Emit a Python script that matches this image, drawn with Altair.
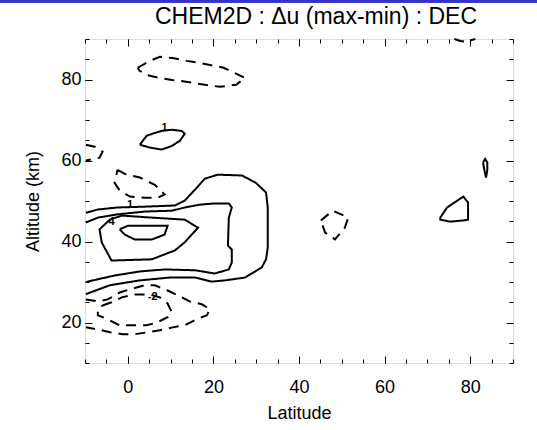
import altair as alt
import pandas as pd

# ---- contour lines (latitude, altitude km) ----
# positive contours (solid)
outer1_lat = [-9.8, -7.0, -2.4, 4.0, 11.0, 13.3, 15.7, 18.0, 21.0, 26.7, 29.9, 32.3, 32.7, 32.7, 32.7, 32.3, 31.3, 27.4, 22.7, 19.6, 15.7, 9.8, 2.8, -4.2, -9.8]
outer1_alt = [47.1, 47.9, 48.4, 48.6, 48.9, 50.1, 52.8, 55.5, 56.5, 56.3, 54.5, 52.1, 48.4, 43.4, 38.5, 35.6, 33.6, 31.1, 30.4, 30.1, 31.1, 31.1, 30.4, 29.2, 27.0]
mid2_lat = [-9.8, -7.0, -2.4, 4.0, 10.3, 13.3, 16.8, 20.3, 23.6, 24.3, 23.6, 23.4, 24.3, 24.3, 23.6, 20.3, 15.7, 8.6, 2.8, -3.1, -9.8]
mid2_alt = [44.7, 45.9, 46.7, 47.4, 47.6, 48.4, 49.1, 49.4, 49.4, 48.4, 45.9, 39.0, 38.0, 34.8, 33.1, 32.1, 32.9, 33.1, 32.6, 31.6, 30.0]
in3_lat = [-1.4, 5.6, 13.3, 16.4, 13.3, 11.0, 5.6, -3.8, -6.1, -6.6, -4.2, -1.4]
in3_alt = [46.4, 45.9, 45.4, 43.4, 39.8, 37.8, 35.6, 35.3, 39.8, 43.0, 45.4, 46.4]
core4_lat = [-1.9, 0.0, 9.3, 8.6, 5.6, 1.6, -0.7, -1.9]
core4_alt = [43.0, 43.9, 43.9, 41.7, 40.5, 40.5, 41.7, 43.0]
upper_lat = [2.8, 4.4, 6.3, 7.9, 10.3, 12.6, 13.3, 12.2, 10.3, 7.9, 5.1, 2.8]
upper_alt = [63.9, 66.1, 66.8, 67.3, 67.6, 67.3, 66.6, 64.9, 63.6, 62.7, 63.2, 63.9]
right_lat = [73.0, 74.6, 78.4, 79.5, 79.5, 78.4, 75.3, 73.0, 73.0]
right_alt = [45.9, 48.4, 51.1, 49.6, 45.4, 45.2, 44.9, 45.4, 45.9]
tiny_lat = [83.0, 83.5, 84.0, 84.0, 83.7, 83.3, 83.0]
tiny_alt = [59.5, 60.4, 59.5, 57.7, 55.8, 57.7, 59.5]

# negative contours (dashed)
dtop_lat = [2.3, 5.1, 7.5, 10.5, 13.8, 16.8, 22.4, 27.4, 25.3, 21.5, 18.0, 14.0, 10.3, 7.5, 5.1, 2.8, 2.3]
dtop_alt = [82.9, 84.6, 85.6, 85.3, 84.6, 84.1, 82.9, 80.4, 78.7, 78.2, 78.7, 79.4, 79.9, 80.4, 80.9, 82.1, 82.9]
dcorner_lat = [76.3, 77.7, 79.1, 80.5, 81.2]
dcorner_alt = [90.0, 89.5, 89.3, 89.8, 90.0]
dleft_lat = [-9.8, -7.7, -5.9, -6.6, -9.8]
dleft_alt = [63.9, 63.4, 62.2, 60.7, 60.0]
dmid_lat = [-2.4, -0.7, 2.8, 6.3, 8.6, 7.0, 4.0, 0.5, -1.9, -3.1, -2.4]
dmid_alt = [57.7, 56.7, 55.8, 54.0, 51.6, 50.8, 50.8, 51.1, 52.6, 54.5, 57.7]
ddia_lat = [45.1, 47.9, 51.5, 50.7, 48.4, 46.1, 45.1]
ddia_alt = [45.2, 47.6, 45.9, 43.4, 40.5, 42.2, 45.2]
dlow1_lat = [-9.8, -7.0, -4.7, -1.9, 0.5, 4.0, 6.3, 9.3, 11.7, 14.5, 17.3, 19.2, 18.5, 16.1, 13.3, 10.5, 7.5, 4.7, 1.6, -1.2, -4.2, -7.0, -9.8]
dlow1_alt = [25.7, 25.2, 25.7, 27.4, 28.2, 29.2, 29.2, 27.9, 26.7, 25.2, 24.5, 23.3, 21.8, 20.8, 19.3, 18.8, 18.1, 17.6, 17.1, 17.1, 17.6, 18.3, 18.8]
dlow2_lat = [-5.9, -3.8, -1.4, 1.6, 5.1, 7.5, 9.3, 10.3, 9.3, 6.8, 4.4, 0.9, -1.9, -4.7, -7.0, -7.0, -5.9]
dlow2_alt = [24.2, 25.0, 26.2, 26.9, 26.9, 26.2, 24.7, 22.5, 21.3, 20.0, 19.3, 19.3, 19.3, 20.8, 21.8, 23.3, 24.2]

# contour labels
label_text = ["1", "4", "1", "-2"]
label_lat = [0.5, -3.8, 8.6, 5.8]
label_alt = [49.1, 44.9, 68.1, 26.2]

x_major = [0, 20, 40, 60, 80]
x_minor = list(range(-10, 91, 5))
y_major = [20, 40, 60, 80]
y_minor = list(range(10, 91, 5))

contours = [
    ("outer1", "pos", outer1_lat, outer1_alt),
    ("mid2", "pos", mid2_lat, mid2_alt),
    ("in3", "pos", in3_lat, in3_alt),
    ("core4", "pos", core4_lat, core4_alt),
    ("upper", "pos", upper_lat, upper_alt),
    ("right", "pos", right_lat, right_alt),
    ("tiny", "pos", tiny_lat, tiny_alt),
    ("dtop", "neg", dtop_lat, dtop_alt),
    ("dcorner", "neg", dcorner_lat, dcorner_alt),
    ("dleft", "neg", dleft_lat, dleft_alt),
    ("dmid", "neg", dmid_lat, dmid_alt),
    ("ddia", "neg", ddia_lat, ddia_alt),
    ("dlow1", "neg", dlow1_lat, dlow1_alt),
    ("dlow2", "neg", dlow2_lat, dlow2_alt),
]
rows = []
for name, sign, lats, alts in contours:
    for i, (a, b) in enumerate(zip(lats, alts)):
        rows.append({"id": name, "sign": sign, "i": i, "lat": a, "alt": b})
df = pd.DataFrame(rows)
lab = pd.DataFrame({"t": label_text, "lat": label_lat, "alt": label_alt})

FONT = "Liberation Sans"
W, H = 428, 324
xs = alt.Scale(domain=[-10, 90], nice=False, zero=False)
ys = alt.Scale(domain=[10, 90], nice=False, zero=False)


def ax(orient, values, size, labels=False, title=None, **kw):
    return alt.Axis(orient=orient, values=values, tickSize=size, offset=-size,
                    domain=False, grid=False, labels=labels, ticks=True,
                    tickColor="black", tickWidth=1, title=title,
                    labelFont=FONT, labelFontSize=18, labelColor="black",
                    titleFont=FONT, titleFontSize=18, titleColor="black",
                    titleFontWeight="normal", **kw)


lines = alt.Chart(df).mark_line(color="black", strokeWidth=2).encode(
    x=alt.X("lat:Q", scale=xs, axis=ax("bottom", x_major, 7, labels=True, title="Latitude",
                                       labelPadding=15, titlePadding=8, labelFlush=False)),
    y=alt.Y("alt:Q", scale=ys, axis=ax("left", y_major, 7, labels=True, title="Altitude (km)",
                                       labelPadding=4, titlePadding=18, labelFlush=False)),
    detail="id:N",
    order="i:Q",
    strokeDash=alt.StrokeDash("sign:N", scale=alt.Scale(domain=["pos", "neg"], range=[[1, 0], [10, 7]]), legend=None),
)


def tick_layer(xo, xv, xsz, yo, yv, ysz):
    return alt.Chart(df).mark_point(opacity=0).encode(
        x=alt.X("lat:Q", scale=xs, axis=ax(xo, xv, xsz)),
        y=alt.Y("alt:Q", scale=ys, axis=ax(yo, yv, ysz)),
    )


minor_bl = tick_layer("bottom", x_minor, 4, "left", y_minor, 4)
major_tr = tick_layer("top", x_major, 7, "right", y_major, 7)
minor_tr = tick_layer("top", x_minor, 4, "right", y_minor, 4)

texts = alt.Chart(lab).mark_text(font=FONT, fontSize=11, fontWeight="bold", fill="black").encode(
    x=alt.X("lat:Q", scale=xs, axis=None), y=alt.Y("alt:Q", scale=ys, axis=None), text="t:N")

bar = alt.Chart(lab).mark_rule(color="#3333cc", strokeWidth=3, clip=False).encode(
    x=alt.value(-85), x2=alt.value(W + 24), y=alt.value(-38))

chart = alt.layer(lines, minor_bl, major_tr, minor_tr, texts, bar).resolve_axis(
    x="independent", y="independent"
).properties(
    width=W, height=H,
    title=alt.TitleParams("CHEM2D : \u0394u (max-min) : DEC", font=FONT, fontSize=23,
                          fontWeight="normal", color="black", anchor="middle", frame="group",
                          dx=17, offset=-29),
    autosize=alt.AutoSizeParams(type="none"),
    padding={"left": 85, "top": 39, "right": 24, "bottom": 67},
).configure_view(stroke="black", strokeWidth=1).configure(background="white")

chart.save("out.html", embed_options={"renderer": "svg", "actions": False})
